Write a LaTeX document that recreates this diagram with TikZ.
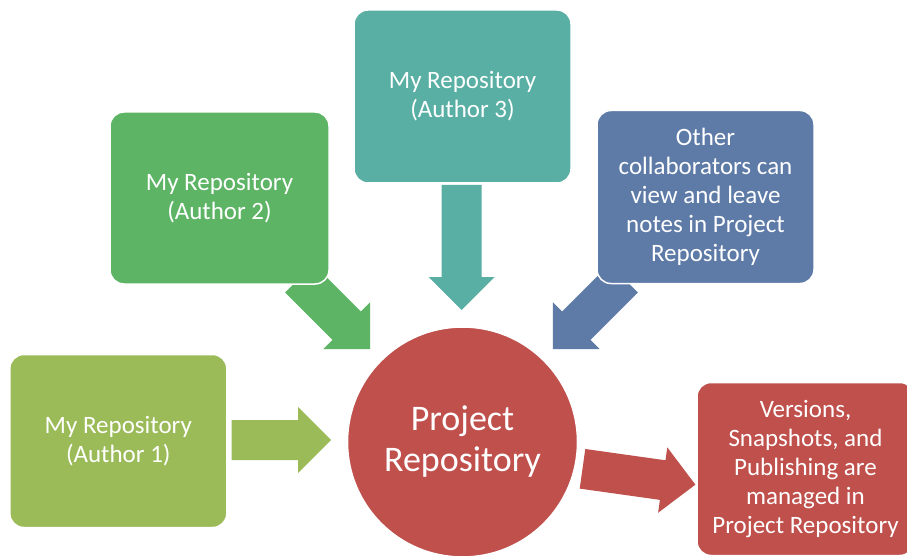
\documentclass[tikz,border=0pt]{standalone}
\usepackage{fontspec}
\setmainfont{Carlito}
\definecolor{cOlive}{HTML}{9BBB59}
\definecolor{cGreen}{HTML}{5DB465}
\definecolor{cTeal}{HTML}{59AFA4}
\definecolor{cBlue}{HTML}{5E7BA8}
\definecolor{cRed}{HTML}{BF504C}
\newcommand\blockarr[4]{%
  \fill[#1, shift={#2}, rotate=#3] (0,-20) -- ({#4-33},-20) -- ({#4-33},-33) -- (#4,0) -- ({#4-33},33) -- ({#4-33},20) -- (0,20) -- cycle;}
\begin{document}
\begin{tikzpicture}[x=1pt,y=-1pt,
  box/.style={rectangle, rounded corners=14pt, minimum width=217pt, minimum height=173pt,
    draw=white, line width=1.5pt, text=white, align=center, inner sep=0pt,
    font=\fontsize{25}{29}\selectfont},
  hub/.style={circle, minimum size=230pt, draw=white, line width=1.5pt, fill=cRed,
    text=white, align=center, inner sep=0pt, font=\fontsize{36}{41}\selectfont}]
\useasboundingbox (0,0) rectangle (907,556);
\fill[white] (0,0) rectangle (907,556);
% block arrows
\blockarr{cOlive}{(231.7,440)}{0}{99.3}
\blockarr{cGreen}{(299.3,278.3)}{-45}{100}
\blockarr{cBlue}{(623.7,278.3)}{-135}{100}
\blockarr{cTeal}{(461.5,185)}{-90}{125}
\blockarr{cRed}{(582.5,468.8)}{-8}{114}
% boxes
\node[box, fill=cOlive] (a1) at (118.3,441) {My Repository\\(Author 1)};
\node[box, fill=cGreen, minimum width=219pt, minimum height=172pt] (a2) at (219.5,198) {My Repository\\(Author 2)};
\node[box, fill=cTeal] (a3) at (462.5,96.5) {My Repository\\(Author 3)};
\node[box, fill=cBlue] (oth) at (705.5,197) {Other\\collaborators can\\view and leave\\notes in Project\\Repository};
\node[box, fill=cRed] (ver) at (805.5,469) {Versions,\\Snapshots, and\\Publishing are\\managed in\\Project Repository};
\node[hub] (pr) at (462.5,442) {Project\\Repository};
\end{tikzpicture}
\end{document}
